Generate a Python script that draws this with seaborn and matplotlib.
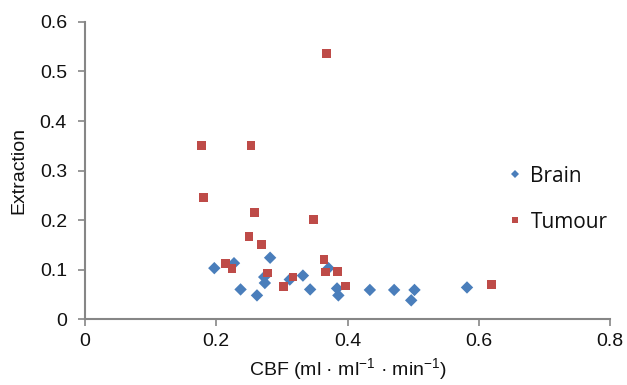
import matplotlib
matplotlib.use("Agg")
import matplotlib.pyplot as plt
import seaborn as sns
import pandas as pd

brain_cbf = [0.197, 0.227, 0.237, 0.262, 0.282, 0.273, 0.274, 0.312, 0.332,
             0.343, 0.371, 0.384, 0.386, 0.434, 0.471, 0.502, 0.497, 0.582]
brain_ext = [0.103, 0.113, 0.060, 0.048, 0.124, 0.085, 0.073, 0.080, 0.088,
             0.060, 0.103, 0.062, 0.048, 0.059, 0.059, 0.059, 0.038, 0.064]

tumour_cbf = [0.177, 0.253, 0.368, 0.180, 0.258, 0.250, 0.269, 0.214, 0.224,
              0.278, 0.303, 0.317, 0.348, 0.364, 0.367, 0.385, 0.397, 0.619]
tumour_ext = [0.351, 0.351, 0.537, 0.245, 0.216, 0.167, 0.150, 0.112, 0.103,
              0.093, 0.066, 0.085, 0.201, 0.121, 0.095, 0.097, 0.067, 0.070]

series_names = ["Brain", "Tumour"]
x_ticks = [0, 0.2, 0.4, 0.6, 0.8]
y_ticks = [0, 0.1, 0.2, 0.3, 0.4, 0.5, 0.6]

df = pd.DataFrame({
    "cbf": brain_cbf + tumour_cbf,
    "ext": brain_ext + tumour_ext,
    "series": [series_names[0]] * len(brain_cbf) + [series_names[1]] * len(tumour_cbf),
})

sns.set_style("white")
plt.rcParams["font.family"] = ["Liberation Sans", "DejaVu Sans"]
plt.rcParams["mathtext.fontset"] = "custom"
plt.rcParams["mathtext.rm"] = "Liberation Sans"
plt.rcParams["mathtext.it"] = "Liberation Sans:italic"
plt.rcParams["mathtext.bf"] = "Liberation Sans:bold"

fig = plt.figure(figsize=(6.27, 3.85), dpi=100)
ax = fig.add_axes([0.1356, 0.171, 0.8374, 0.772])

sns.scatterplot(data=df, x="cbf", y="ext", hue="series", style="series",
                palette={"Brain": "#4A7EBB", "Tumour": "#BE4B48"},
                markers={"Brain": "D", "Tumour": "s"},
                s=40, linewidth=0, ax=ax, legend=True, zorder=3)

ax.set_xlim(0, 0.8)
ax.set_ylim(0, 0.6)
ax.set_xticks(x_ticks)
ax.set_yticks(y_ticks)
ax.set_xticklabels([f"{v:g}" for v in x_ticks])
ax.set_yticklabels([f"{v:g}" for v in y_ticks])

for side in ["top", "right"]:
    ax.spines[side].set_visible(False)
for side in ["left", "bottom"]:
    ax.spines[side].set_color("#868686")
    ax.spines[side].set_linewidth(1.5)

ax.tick_params(axis="both", which="major", direction="out", length=5, width=1.2,
               color="#868686", labelsize=14, labelcolor="#111111",
               left=True, bottom=True)
ax.tick_params(axis="y", pad=8)
ax.tick_params(axis="x", pad=5)

ax.set_xlabel(r"CBF (ml · ml$^{\mathrm{-1}}$ · min$^{\mathrm{-1}}$)",
              fontsize=14, color="#111111", labelpad=4)
ax.set_ylabel("Extraction", fontsize=14, color="#111111", labelpad=9)

leg = ax.legend(loc="upper left", bbox_to_anchor=(0.763, 0.58), frameon=False,
                prop={"family": "Open Sans", "size": 15}, labelspacing=1.2,
                handletextpad=0.25, markerscale=0.7, handlelength=1.0)
for t in leg.get_texts():
    t.set_color("#111111")

fig.savefig("out.png", dpi=100)
